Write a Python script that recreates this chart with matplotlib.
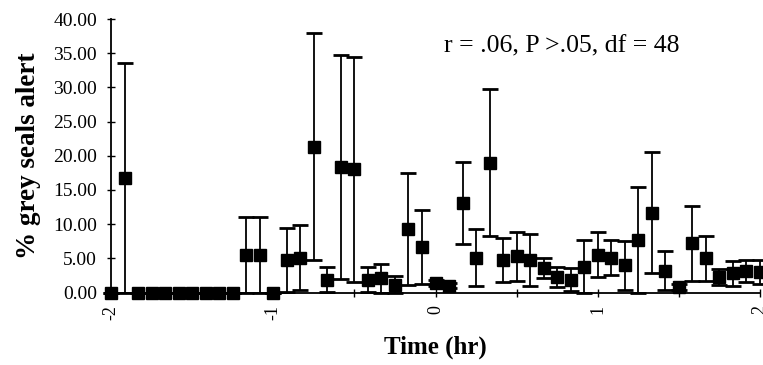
import numpy as np
import matplotlib
matplotlib.use('Agg')
import matplotlib.pyplot as plt
from matplotlib.ticker import FormatStrFormatter

plt.rcParams['font.family'] = ['Liberation Serif', 'DejaVu Serif']

# Time of each 5 min bin relative to the event, in minutes
minutes = [-120, -115, -110, -105, -100, -95, -90, -85, -80, -75, -70, -65,
           -60, -55, -50, -45, -40, -35, -30, -25, -20, -15, -10, -5,
           0, 5, 10, 15, 20, 25, 30, 35, 40, 45, 50, 55,
           60, 65, 70, 75, 80, 85, 90, 95, 100, 105, 110, 115, 120]

# Mean % of grey seals alert per bin
pct_alert = [0.0, 16.7, 0.0, 0.0, 0.0, 0.0, 0.0, 0.0, 0.0, 0.0, 5.5, 5.5,
             0.0, 4.8, 5.1, 21.3, 1.9, 18.4, 18.0, 1.9, 2.1, 1.1, 9.3, 6.6,
             1.4, 1.0, 13.1, 5.1, 19.0, 4.8, 5.3, 4.8, 3.6, 2.3, 1.9, 3.8,
             5.5, 5.1, 4.0, 7.7, 11.7, 3.2, 0.8, 7.2, 5.0, 2.3, 2.8, 3.2, 3.0]

# Error (same above and below, cut off at zero)
pct_err = [0.0, 16.8, 0.0, 0.0, 0.0, 0.0, 0.0, 0.0, 0.0, 0.0, 5.5, 5.5,
           0.0, 4.7, 4.8, 16.6, 1.8, 16.4, 16.4, 1.8, 2.1, 1.3, 8.2, 5.4,
           0.5, 0.4, 6.0, 4.2, 10.7, 3.2, 3.6, 3.8, 1.5, 1.5, 1.7, 3.9,
           3.3, 2.6, 3.6, 7.7, 8.9, 2.8, 0.5, 5.5, 3.3, 1.2, 1.8, 1.6, 1.7]

stats_text = 'r = .06, P >.05, df = 48'

hours = np.array(minutes) / 60.0
vals = np.array(pct_alert)
err = np.array(pct_err)
lower = np.minimum(err, vals)

fig = plt.figure(figsize=(7.63, 3.65), dpi=100)
ax = fig.add_axes([111 / 763, 1 - 292.5 / 365, (760 - 111) / 763, (292.5 - 19) / 365])

eb = ax.errorbar(hours, vals, yerr=[lower, err], fmt='s', color='black',
                 ms=8.5, capsize=6, elinewidth=1.3, capthick=2)
for art in eb.get_children():
    art.set_clip_on(False)

ax.set_xlim(-2, 2)
ax.set_ylim(0, 40)
ax.set_yticks(np.arange(0, 41, 5))
ax.yaxis.set_major_formatter(FormatStrFormatter('%.2f'))
ax.set_xticks([-2, -1, 0, 1, 2])
ax.set_xticklabels(['-2', '-1', '0', '1', '2'], rotation=90)
ax.set_xticks([-1.5, -0.5, 0.5, 1.5], minor=True)

for s in ['top', 'right']:
    ax.spines[s].set_visible(False)
for s in ['left', 'bottom']:
    ax.spines[s].set_linewidth(1.3)

ax.tick_params(axis='both', which='both', direction='inout', length=6, width=1)
ax.tick_params(axis='y', labelsize=14, pad=7)
ax.tick_params(axis='x', labelsize=13, pad=6)

ax.set_ylabel('% grey seals alert', fontsize=19.5, fontweight='bold', labelpad=9)
ax.set_xlabel('Time (hr)', fontsize=18, fontweight='bold', labelpad=11)

ax.text(0.05, 36.0, stats_text, fontsize=18.5, ha='left', va='center')

fig.savefig('out.png', dpi=100)
